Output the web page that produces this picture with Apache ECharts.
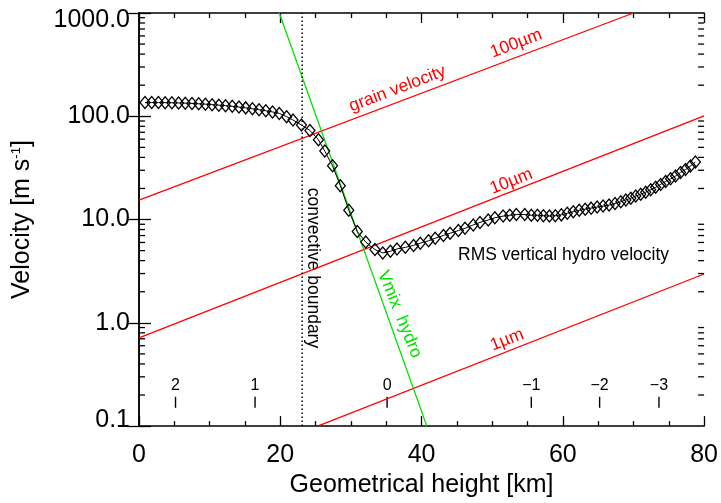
<!DOCTYPE html>
<html>
<head>
<meta charset="utf-8">
<script src="https://cdn.jsdelivr.net/npm/echarts@6/dist/echarts.min.js"></script>
<style>
  html, body { margin: 0; padding: 0; background: #fff; }
  #chart { width: 721px; height: 503px; }
</style>
</head>
<body>
<div id="chart"></div>
<script>
// RMS vertical hydro velocity, km vs m/s
const heights = [
  0.85, 1.8, 2.75, 3.7, 4.65, 5.6, 6.55, 7.5, 8.45, 9.4, 10.35, 11.3, 12.25, 13.2,
  14.15, 15.1, 16.05, 17.0, 17.95, 18.9, 19.86, 20.9, 21.8, 23.0,
  24.2, 25.4, 26.3, 27.4, 28.5, 29.7, 30.9, 32.1, 33.4, 34.51, 35.59, 36.52, 37.7,
  38.87, 39.82, 40.99, 41.93, 43.1, 44.04, 45.21, 46.15, 47.32, 48.27, 49.44, 50.38,
  51.55, 52.49, 53.42, 54.61, 55.54, 56.41, 57.25, 58.1, 58.94, 59.79, 60.63, 61.48,
  62.32, 63.17, 64.01, 64.86, 65.7, 66.55, 67.39, 68.21, 68.92, 69.62, 70.32, 71.03,
  71.73, 72.44, 73.14, 73.85, 74.55, 75.25, 75.96, 76.66, 77.37, 78.07, 78.77
];
const rmsVelocity = [
  135.7, 135.7, 135.7, 135.5, 135.2, 134.7, 134.0, 133.2, 132.2, 131.0, 129.6, 128.2, 126.6, 124.8,
  122.8, 120.6, 118.3, 115.8, 113.0, 110.2, 106.6, 99.1, 92.0, 82.4,
  72.9, 59.3, 46.0, 33.1, 21.3, 12.3, 7.65, 6.05, 5.12, 4.75, 4.93, 5.19, 5.38,
  5.62, 5.91, 6.23, 6.60, 7.01, 7.37, 7.82, 8.23, 8.87, 9.38, 9.89, 10.4,
  10.8, 11.0, 11.2, 11.2, 11.0, 11.0, 10.9, 10.8, 10.9, 11.1, 11.5, 11.9,
  12.3, 12.6, 12.9, 13.2, 13.5, 13.8, 14.3, 14.9, 15.5, 16.1, 16.9, 17.6,
  18.4, 19.4, 20.5, 21.9, 23.4, 24.8, 26.4, 28.6, 30.5, 33.0, 36.0
];

// grain velocity lines and mixing velocity (end points, km / m/s)
const grain100um = [[0, 15.4], [70, 1000]];
const grain10um = [[0, 0.714], [80, 100.7]];
const grain1um = [[25.3, 0.1], [80, 2.97]];
const vmixHydro = [[19.86, 1000], [40.75, 0.1]];
const convBoundary = 23.1;

// secondary scale marks near the bottom
const tauPos = [5.17, 16.43, 35.12, 55.54, 65.21, 73.61];
const tauLabels = ['2', '1', '0', '\u22121', '\u22122', '\u22123'];
const tauY = 0.17;

// log minor ticks 2..9 per decade
const yMinor = [];
[0.1, 1, 10, 100].forEach(d => { for (let k = 2; k <= 9; k++) yMinor.push(+(k * d).toPrecision(3)); });

const FONT = 'Liberation Sans, Arial, sans-serif';
const RED = '#ff0000';
const GREEN = '#00e000';

const chart = echarts.init(document.getElementById('chart'), null, { renderer: 'canvas' });

const xBase = {
  type: 'value', min: 0, max: 80, interval: 20,
  axisLine: { lineStyle: { color: '#000', width: 1.5 } },
  axisTick: { inside: true, length: 10, lineStyle: { color: '#000', width: 1.3 } },
  minorTick: { show: true, splitNumber: 4, length: 5, lineStyle: { color: '#000', width: 1.3 } },
  splitLine: { show: false }
};
const yBase = {
  type: 'log', min: 0.1, max: 1000, logBase: 10,
  axisLine: { lineStyle: { color: '#000', width: 1.5 } },
  axisTick: { inside: true, length: 12, lineStyle: { color: '#000', width: 1.3 } },
  splitLine: { show: false }
};

function textMark(x, y, text, color, rotate, size) {
  return {
    value: [x, y],
    label: { show: true, position: 'inside', formatter: text, color: color, rotate: rotate,
      fontSize: size, fontFamily: FONT }
  };
}

const option = {
  animation: false,
  backgroundColor: '#fff',
  grid: { left: 139, right: 14, top: 13, bottom: 70 },
  xAxis: [
    Object.assign({}, xBase, {
      position: 'bottom',
      axisLabel: { color: '#000', fontSize: 25, fontFamily: FONT, margin: 17 },
      name: 'Geometrical height [km]', nameLocation: 'middle', nameGap: 46,
      nameTextStyle: { color: '#000', fontSize: 25, fontFamily: FONT }
    }),
    Object.assign({}, xBase, { position: 'top', axisLabel: { show: false } })
  ],
  yAxis: [
    Object.assign({}, yBase, {
      position: 'left',
      axisLabel: {
        color: '#000', fontSize: 25, fontFamily: FONT, margin: 9,
        formatter: v => {
          const s = Number(v).toFixed(1);
          if (v > 500) return '{hi|' + s + '}';
          if (v < 0.5) return '{lo|' + s + '}';
          return s;
        },
        rich: {
          hi: { fontSize: 25, fontFamily: FONT, color: '#000', padding: [15, 0, 0, 0] },
          lo: { fontSize: 25, fontFamily: FONT, color: '#000', padding: [0, 0, 12, 0] }
        }
      },
      name: 'Velocity [m s{sup|-1}]', nameLocation: 'middle', nameGap: 104,
      nameTextStyle: { color: '#000', fontSize: 25, fontFamily: FONT,
        rich: { sup: { fontSize: 13, fontFamily: FONT, color: '#000', padding: [0, 0, 12, 0] } } }
    }),
    Object.assign({}, yBase, { position: 'right', axisLabel: { show: false } })
  ],
  series: [
    {
      type: 'custom', xAxisIndex: 0, yAxisIndex: 0, silent: true,
      data: yMinor.map(v => [0, v]),
      renderItem: function (params, api) {
        const v = api.value(1);
        const l = api.coord([0, v]);
        const r = api.coord([80, v]);
        const st = { stroke: '#000', lineWidth: 1.3 };
        return { type: 'group', children: [
          { type: 'line', shape: { x1: l[0], y1: l[1], x2: l[0] + 6, y2: l[1] }, style: st },
          { type: 'line', shape: { x1: r[0] - 6, y1: r[1], x2: r[0], y2: r[1] }, style: st }
        ] };
      }
    },
    { type: 'line', data: grain100um, symbol: 'none', lineStyle: { color: RED, width: 1.3 } },
    { type: 'line', data: grain10um, symbol: 'none', lineStyle: { color: RED, width: 1.3 } },
    { type: 'line', data: grain1um, symbol: 'none', lineStyle: { color: RED, width: 1.3 } },
    { type: 'line', data: vmixHydro, symbol: 'none', lineStyle: { color: GREEN, width: 1.3 } },
    { type: 'line', data: [[convBoundary, 0.1], [convBoundary, 1000]], symbol: 'none',
      lineStyle: { color: '#000', width: 1.5, type: [1.5, 2.5] } },
    {
      type: 'line', data: heights.map((h, i) => [h, rmsVelocity[i]]),
      symbol: 'diamond', symbolSize: [10, 12], showAllSymbol: true,
      itemStyle: { color: 'rgba(0,0,0,0)', borderColor: '#000', borderWidth: 1.3 },
      lineStyle: { color: '#000', width: 1 }, z: 5
    },
    {
      type: 'scatter', symbol: 'rect', symbolSize: [1.4, 11],
      itemStyle: { color: '#000', opacity: 1 },
      data: tauPos.map((x, i) => ({ value: [x, tauY], name: tauLabels[i] })),
      label: { show: true, position: 'top', distance: 3, formatter: p => p.name,
        color: '#000', fontSize: 16, fontFamily: FONT }
    },
    {
      type: 'scatter', symbolSize: 0, silent: true,
      itemStyle: { opacity: 1 },
      data: [
        textMark(36.6, 184.5, 'grain velocity', RED, 21, 17.5),
        textMark(53.4, 506, '100\u00b5m', RED, 21, 17.5),
        textMark(52.7, 23.4, '10\u00b5m', RED, 21.5, 17.5),
        textMark(52.1, 0.684, '1\u00b5m', RED, 21.5, 17.5),
        textMark(60.1, 4.52, 'RMS vertical hydro velocity', '#000', 0, 17.5),
        textMark(24.58, 3.40, 'convective boundary', '#000', -90, 17.5),
        textMark(36.9, 1.21, 'Vmix  hydro', GREEN, -68, 17.5)
      ]
    }
  ]
};

chart.setOption(option);
</script>
</body>
</html>
